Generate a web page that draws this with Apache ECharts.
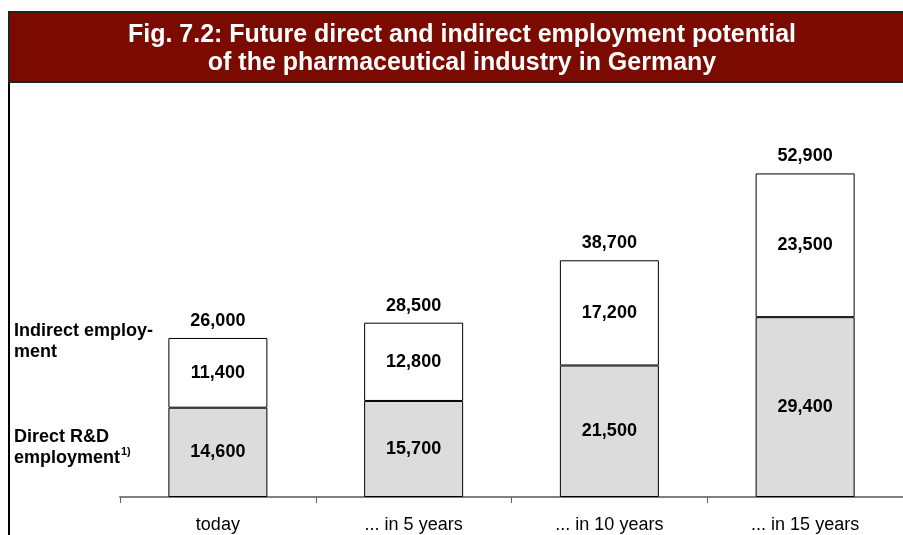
<!DOCTYPE html>
<html>
<head>
<meta charset="utf-8">
<script src="https://cdn.jsdelivr.net/npm/echarts@6/dist/echarts.min.js"></script>
<style>
  html, body { margin: 0; padding: 0; background: #fff; }
  #main { width: 903px; height: 535px; }
</style>
</head>
<body>
<div id="main"></div>
<script>
// data
const categories = ['today', '... in 5 years', '... in 10 years', '... in 15 years'];
const directRD = [14600, 15700, 21500, 29400];
const indirect = [11400, 12800, 17200, 23500];
const totals = [26000, 28500, 38700, 52900];

const FONT = '"Liberation Sans", Arial, Helvetica, sans-serif';
const fmt = v => v.toLocaleString('en-US');

const chart = echarts.init(document.getElementById('main'));

const option = {
    animation: false,
    backgroundColor: '#fff',
    textStyle: { fontFamily: FONT },
    grid: { left: 120, right: 0, top: 130, bottom: 38 },
    xAxis: {
        type: 'category',
        data: categories,
        axisLine: { lineStyle: { color: '#808080', width: 2 } },
        axisTick: { show: true, length: 6, lineStyle: { color: '#606060', width: 1 } },
        axisLabel: { color: '#000', fontSize: 18, fontFamily: FONT, margin: 19 }
    },
    yAxis: {
        type: 'value',
        min: 0,
        max: 60000,
        show: false,
        splitLine: { show: false }
    },
    series: [
        {
            name: 'Direct R&D employment',
            type: 'bar',
            stack: 'emp',
            barWidth: 99,
            data: directRD,
            itemStyle: { color: '#dcdcdc', borderColor: '#000', borderWidth: 1 },
            label: {
                show: true, position: 'inside', color: '#000',
                fontSize: 18, fontWeight: 'bold', fontFamily: FONT,
                formatter: p => fmt(p.value)
            }
        },
        {
            name: 'Indirect employment',
            type: 'bar',
            stack: 'emp',
            barWidth: 99,
            data: indirect,
            itemStyle: { color: '#fff', borderColor: '#000', borderWidth: 1 },
            label: {
                show: true, position: 'inside', color: '#000',
                fontSize: 18, fontWeight: 'bold', fontFamily: FONT,
                formatter: p => fmt(p.value)
            }
        },
        {
            // totals on top of each stack
            name: 'total',
            type: 'line',
            data: totals,
            symbol: 'circle',
            symbolSize: 0,
            showSymbol: true,
            lineStyle: { opacity: 0 },
            itemStyle: { color: '#000' },
            z: 5,
            label: {
                show: true, position: 'top', distance: 8, color: '#000',
                fontSize: 18, fontWeight: 'bold', fontFamily: FONT,
                formatter: p => fmt(p.value)
            }
        }
    ],
    graphic: [
        {
            type: 'rect',
            shape: { x: 9, y: 12, width: 900, height: 70 },
            style: { fill: '#7b0a00', stroke: '#222', lineWidth: 2 }
        },
        {
            type: 'text',
            x: 462, y: 21,
            style: {
                text: 'Fig. 7.2: Future direct and indirect employment potential\nof the pharmaceutical industry in Germany',
                fill: '#fff', font: 'bold 25px ' + FONT,
                align: 'center', verticalAlign: 'top', lineHeight: 28
            }
        },
        {
            type: 'line',
            shape: { x1: 9, y1: 82, x2: 9, y2: 535 },
            style: { stroke: '#000', lineWidth: 2 }
        },
        {
            type: 'text',
            x: 14, y: 321,
            style: {
                text: 'Indirect employ-\nment',
                fill: '#000', font: 'bold 18px ' + FONT, lineHeight: 21
            }
        },
        {
            type: 'text',
            x: 14, y: 427,
            style: {
                text: 'Direct R&D\nemployment',
                fill: '#000', font: 'bold 18px ' + FONT, lineHeight: 21
            }
        },
        {
            type: 'text',
            x: 121, y: 452,
            style: {
                text: '1)',
                fill: '#000', font: 'bold 11px ' + FONT, verticalAlign: 'middle'
            }
        }
    ]
};

chart.setOption(option);
</script>
</body>
</html>
